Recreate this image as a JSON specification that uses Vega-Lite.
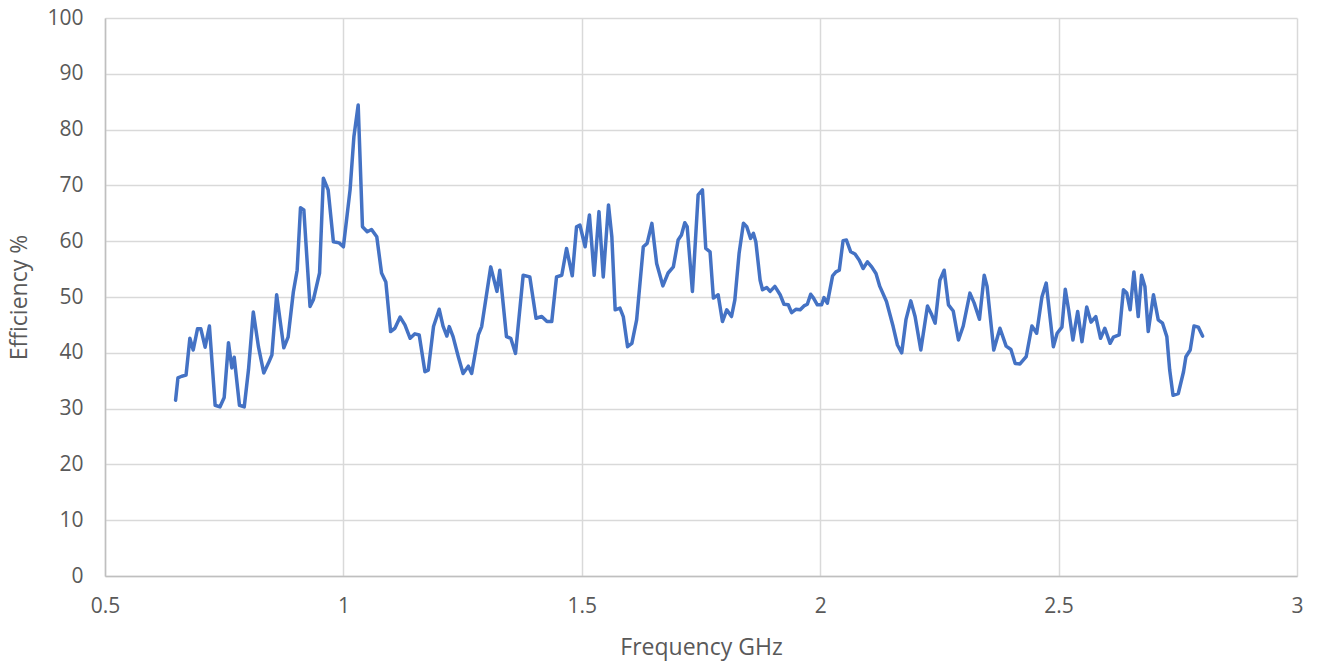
{
  "$schema": "https://vega.github.io/schema/vega-lite/v6.json",
  "autosize": "none",
  "width": 1192,
  "height": 558,
  "padding": {"left": 105, "top": 18, "right": 25, "bottom": 92},
  "background": "white",
  "config": {
    "view": {"stroke": null},
    "font": "Open Sans",
    "axis": {
      "gridColor": "#d9d9d9",
      "gridWidth": 1.5,
      "domainColor": "#bfbfbf",
      "domainWidth": 1.5,
      "ticks": false,
      "labelColor": "#595959",
      "labelFontSize": 21,
      "titleColor": "#595959",
      "titleFontSize": 23,
      "titleFontWeight": "normal"
    }
  },
  "data": {
    "values": [
      {"f": 0.648, "e": 31.5}, {"f": 0.653, "e": 35.5}, {"f": 0.661, "e": 35.8}, {"f": 0.670, "e": 36.0},
      {"f": 0.678, "e": 42.6}, {"f": 0.685, "e": 40.5}, {"f": 0.694, "e": 44.3}, {"f": 0.701, "e": 44.3},
      {"f": 0.710, "e": 41.0}, {"f": 0.719, "e": 44.8}, {"f": 0.731, "e": 30.6}, {"f": 0.741, "e": 30.3},
      {"f": 0.750, "e": 32.0}, {"f": 0.759, "e": 41.8}, {"f": 0.766, "e": 37.3}, {"f": 0.771, "e": 39.2},
      {"f": 0.782, "e": 30.6}, {"f": 0.792, "e": 30.3}, {"f": 0.801, "e": 37.0}, {"f": 0.811, "e": 47.3},
      {"f": 0.822, "e": 41.0}, {"f": 0.833, "e": 36.4}, {"f": 0.843, "e": 38.2}, {"f": 0.850, "e": 39.6},
      {"f": 0.860, "e": 50.4}, {"f": 0.875, "e": 40.9}, {"f": 0.884, "e": 42.8}, {"f": 0.895, "e": 50.9},
      {"f": 0.903, "e": 54.8}, {"f": 0.910, "e": 66.0}, {"f": 0.917, "e": 65.6}, {"f": 0.930, "e": 48.3},
      {"f": 0.937, "e": 49.5}, {"f": 0.950, "e": 54.3}, {"f": 0.958, "e": 71.3}, {"f": 0.968, "e": 69.2},
      {"f": 0.979, "e": 59.9}, {"f": 0.991, "e": 59.7}, {"f": 1.000, "e": 59.0}, {"f": 1.014, "e": 69.2},
      {"f": 1.022, "e": 78.7}, {"f": 1.031, "e": 84.4}, {"f": 1.040, "e": 62.6}, {"f": 1.050, "e": 61.7},
      {"f": 1.059, "e": 62.1}, {"f": 1.070, "e": 60.8}, {"f": 1.080, "e": 54.3}, {"f": 1.089, "e": 52.7},
      {"f": 1.099, "e": 43.8}, {"f": 1.108, "e": 44.4}, {"f": 1.119, "e": 46.4}, {"f": 1.129, "e": 45.0},
      {"f": 1.140, "e": 42.6}, {"f": 1.150, "e": 43.4}, {"f": 1.159, "e": 43.2}, {"f": 1.171, "e": 36.6},
      {"f": 1.178, "e": 36.9}, {"f": 1.189, "e": 44.7}, {"f": 1.201, "e": 47.8}, {"f": 1.209, "e": 44.8},
      {"f": 1.217, "e": 43.0}, {"f": 1.222, "e": 44.7}, {"f": 1.230, "e": 42.9}, {"f": 1.241, "e": 39.3},
      {"f": 1.251, "e": 36.3}, {"f": 1.262, "e": 37.6}, {"f": 1.269, "e": 36.3}, {"f": 1.283, "e": 43.2},
      {"f": 1.290, "e": 44.7}, {"f": 1.309, "e": 55.4}, {"f": 1.322, "e": 51.0}, {"f": 1.328, "e": 54.8},
      {"f": 1.342, "e": 42.9}, {"f": 1.351, "e": 42.6}, {"f": 1.361, "e": 39.9}, {"f": 1.377, "e": 53.9},
      {"f": 1.391, "e": 53.6}, {"f": 1.404, "e": 46.2}, {"f": 1.416, "e": 46.5}, {"f": 1.427, "e": 45.6},
      {"f": 1.437, "e": 45.6}, {"f": 1.447, "e": 53.6}, {"f": 1.458, "e": 53.9}, {"f": 1.468, "e": 58.7},
      {"f": 1.480, "e": 53.8}, {"f": 1.489, "e": 62.6}, {"f": 1.496, "e": 62.9}, {"f": 1.507, "e": 59.0},
      {"f": 1.516, "e": 64.7}, {"f": 1.526, "e": 53.9}, {"f": 1.536, "e": 65.3}, {"f": 1.545, "e": 53.6},
      {"f": 1.556, "e": 66.5}, {"f": 1.563, "e": 60.8}, {"f": 1.570, "e": 47.7}, {"f": 1.580, "e": 48.0},
      {"f": 1.587, "e": 46.5}, {"f": 1.596, "e": 41.1}, {"f": 1.605, "e": 41.7}, {"f": 1.615, "e": 45.9},
      {"f": 1.629, "e": 59.0}, {"f": 1.637, "e": 59.6}, {"f": 1.647, "e": 63.2}, {"f": 1.657, "e": 56.0},
      {"f": 1.670, "e": 52.0}, {"f": 1.681, "e": 54.3}, {"f": 1.692, "e": 55.4}, {"f": 1.702, "e": 60.2},
      {"f": 1.709, "e": 61.1}, {"f": 1.716, "e": 63.3}, {"f": 1.721, "e": 62.6}, {"f": 1.732, "e": 51.0},
      {"f": 1.744, "e": 68.3}, {"f": 1.753, "e": 69.2}, {"f": 1.760, "e": 58.7}, {"f": 1.769, "e": 58.1},
      {"f": 1.776, "e": 49.8}, {"f": 1.786, "e": 50.4}, {"f": 1.795, "e": 45.6}, {"f": 1.804, "e": 47.7},
      {"f": 1.814, "e": 46.5}, {"f": 1.821, "e": 49.5}, {"f": 1.830, "e": 57.9}, {"f": 1.839, "e": 63.2},
      {"f": 1.846, "e": 62.6}, {"f": 1.854, "e": 60.5}, {"f": 1.860, "e": 61.4}, {"f": 1.865, "e": 59.9},
      {"f": 1.874, "e": 53.0}, {"f": 1.879, "e": 51.3}, {"f": 1.888, "e": 51.7}, {"f": 1.895, "e": 51.0},
      {"f": 1.905, "e": 51.9}, {"f": 1.916, "e": 50.4}, {"f": 1.924, "e": 48.7}, {"f": 1.933, "e": 48.6},
      {"f": 1.940, "e": 47.2}, {"f": 1.949, "e": 47.8}, {"f": 1.958, "e": 47.7}, {"f": 1.966, "e": 48.4},
      {"f": 1.973, "e": 48.7}, {"f": 1.980, "e": 50.5}, {"f": 1.986, "e": 49.8}, {"f": 1.994, "e": 48.6},
      {"f": 2.003, "e": 48.6}, {"f": 2.008, "e": 49.9}, {"f": 2.015, "e": 48.9}, {"f": 2.026, "e": 53.8},
      {"f": 2.033, "e": 54.5}, {"f": 2.040, "e": 54.8}, {"f": 2.048, "e": 60.1}, {"f": 2.055, "e": 60.2},
      {"f": 2.064, "e": 58.1}, {"f": 2.073, "e": 57.7}, {"f": 2.082, "e": 56.6}, {"f": 2.090, "e": 55.1},
      {"f": 2.099, "e": 56.3}, {"f": 2.108, "e": 55.4}, {"f": 2.117, "e": 54.2}, {"f": 2.125, "e": 51.9},
      {"f": 2.139, "e": 49.2}, {"f": 2.153, "e": 44.7}, {"f": 2.162, "e": 41.4}, {"f": 2.171, "e": 40.0},
      {"f": 2.180, "e": 46.0}, {"f": 2.190, "e": 49.3}, {"f": 2.199, "e": 46.5}, {"f": 2.211, "e": 40.5},
      {"f": 2.225, "e": 48.4}, {"f": 2.234, "e": 46.8}, {"f": 2.241, "e": 45.3}, {"f": 2.251, "e": 53.0},
      {"f": 2.260, "e": 54.8}, {"f": 2.269, "e": 48.6}, {"f": 2.279, "e": 47.5}, {"f": 2.290, "e": 42.3},
      {"f": 2.300, "e": 44.8}, {"f": 2.314, "e": 50.7}, {"f": 2.323, "e": 48.9}, {"f": 2.334, "e": 46.0},
      {"f": 2.344, "e": 53.9}, {"f": 2.350, "e": 51.9}, {"f": 2.364, "e": 40.5}, {"f": 2.377, "e": 44.4},
      {"f": 2.390, "e": 41.2}, {"f": 2.400, "e": 40.6}, {"f": 2.409, "e": 38.1}, {"f": 2.419, "e": 38.0},
      {"f": 2.432, "e": 39.3}, {"f": 2.444, "e": 44.8}, {"f": 2.454, "e": 43.5}, {"f": 2.465, "e": 50.0},
      {"f": 2.474, "e": 52.5}, {"f": 2.489, "e": 41.1}, {"f": 2.497, "e": 43.5}, {"f": 2.507, "e": 44.6},
      {"f": 2.514, "e": 51.4}, {"f": 2.521, "e": 47.7}, {"f": 2.530, "e": 42.3}, {"f": 2.540, "e": 47.4},
      {"f": 2.549, "e": 42.0}, {"f": 2.559, "e": 48.2}, {"f": 2.568, "e": 45.5}, {"f": 2.578, "e": 46.5},
      {"f": 2.588, "e": 42.6}, {"f": 2.597, "e": 44.4}, {"f": 2.608, "e": 41.7}, {"f": 2.615, "e": 42.8},
      {"f": 2.627, "e": 43.2}, {"f": 2.636, "e": 51.3}, {"f": 2.643, "e": 50.7}, {"f": 2.650, "e": 47.7},
      {"f": 2.658, "e": 54.5}, {"f": 2.667, "e": 46.5}, {"f": 2.674, "e": 53.9}, {"f": 2.681, "e": 51.9},
      {"f": 2.688, "e": 43.8}, {"f": 2.699, "e": 50.4}, {"f": 2.709, "e": 45.9}, {"f": 2.718, "e": 45.3},
      {"f": 2.727, "e": 42.9}, {"f": 2.733, "e": 36.9}, {"f": 2.740, "e": 32.4}, {"f": 2.751, "e": 32.7},
      {"f": 2.762, "e": 36.6}, {"f": 2.767, "e": 39.3}, {"f": 2.776, "e": 40.5}, {"f": 2.784, "e": 44.8},
      {"f": 2.793, "e": 44.6}, {"f": 2.802, "e": 43.0}
    ]
  },
  "mark": {"type": "line", "color": "#4472C4", "strokeWidth": 3.5, "strokeJoin": "round", "strokeCap": "round"},
  "encoding": {
    "x": {
      "field": "f", "type": "quantitative", "title": "Frequency GHz",
      "scale": {"domain": [0.5, 3], "nice": false, "zero": false},
      "axis": {"values": [0.5, 1, 1.5, 2, 2.5, 3], "format": "~g", "labelPadding": 19, "titlePadding": 20, "labelFlush": false}
    },
    "y": {
      "field": "e", "type": "quantitative", "title": "Efficiency %",
      "scale": {"domain": [0, 100], "nice": false},
      "axis": {"values": [0, 10, 20, 30, 40, 50, 60, 70, 80, 90, 100], "labelPadding": 22, "titlePadding": 15, "labelFlush": false}
    }
  }
}
